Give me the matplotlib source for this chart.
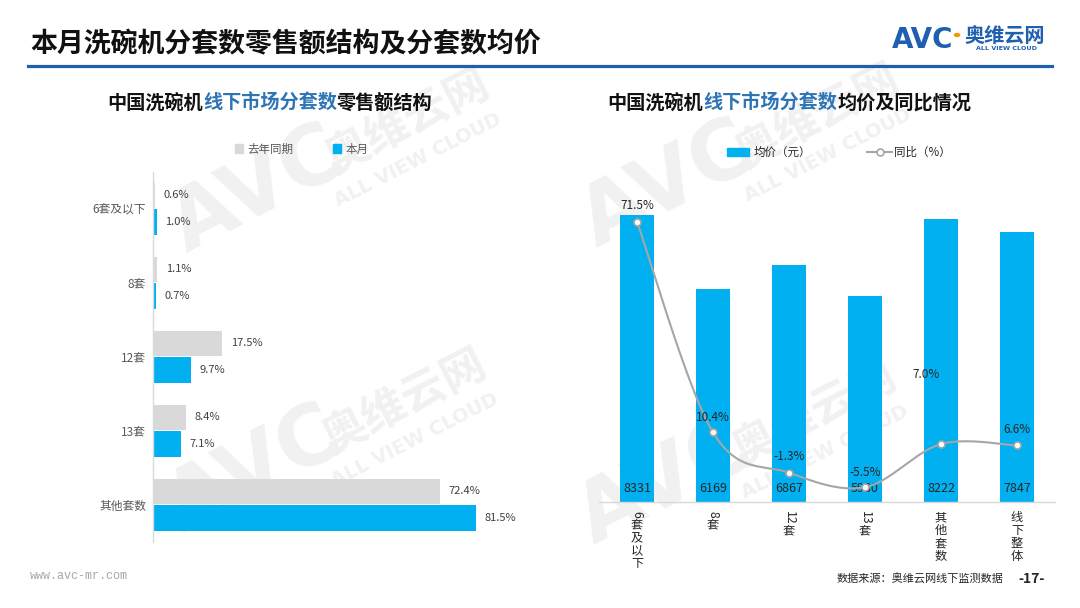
import numpy as np
import matplotlib
matplotlib.use("Agg")
import matplotlib.pyplot as plt
from matplotlib.patches import Rectangle, Circle
from matplotlib.lines import Line2D

plt.rcParams['font.family'] = ['Noto Sans CJK SC', 'DejaVu Sans']

# ---------------- data ----------------
share_cats = ["6套及以下", "8套", "12套", "13套", "其他套数"]
share_last_year = [0.6, 1.1, 17.5, 8.4, 72.4]
share_this_month = [1.0, 0.7, 9.7, 7.1, 81.5]

price_cats = ["6套及以下", "8套", "12套", "13套", "其他套数", "线下整体"]
avg_price = [8331, 6169, 6867, 5980, 8222, 7847]
yoy_pct = [71.5, 10.4, -1.3, -5.5, 7.0, 6.6]

W, H = 1080, 608
GRAY = "#D9D9D9"
BLUE = "#00B0F0"
DARK = "#1F5FAF"
TXT = "#404040"

fig = plt.figure(figsize=(W / 100, H / 100), dpi=100)


def fx(px):
    return px / W


def fy(py):
    return 1 - py / H


def add_ax(l, t, r, b):
    return fig.add_axes([fx(l), fy(b), (r - l) / W, (b - t) / H])


# ---------------- watermarks ----------------
WM = "#F1F1F1"
for cx, cy in [(258, 190), (255, 470), (668, 185), (665, 482)]:
    fig.text(fx(cx), fy(cy), "AVC", fontsize=60, fontweight="bold",
             color=WM, rotation=27, ha="center", va="center", zorder=-10,
             family="DejaVu Sans")
    fig.text(fx(cx + 150), fy(cy - 68), "奥维云网", fontsize=32, fontweight="bold",
             color=WM, rotation=27, ha="center", va="center", zorder=-10)
    fig.text(fx(cx + 160), fy(cy - 30), "ALL VIEW CLOUD", fontsize=14, fontweight="bold",
             color=WM, rotation=27, ha="center", va="center", zorder=-10,
             family="DejaVu Sans")

# ---------------- header ----------------
fig.text(fx(30), fy(44), "本月洗碗机分套数零售额结构及分套数均价", fontsize=19.4,
         fontweight="bold", color="#111111", ha="left", va="center")
fig.add_artist(Line2D([fx(28), fx(1052)], [fy(66), fy(66)], color=DARK, lw=2.3))

# logo
fig.text(fx(892), fy(40), "AVC", fontsize=20, fontweight="bold",
         color=DARK, ha="left", va="center", family="DejaVu Sans")
fig.add_artist(Circle((fx(957), fy(35)), 2.6 / W, color="#F39800",
                      transform=fig.transFigure))
fig.text(fx(964), fy(36), "奥维云网", fontsize=14.5, fontweight="bold",
         color=DARK, ha="left", va="center")
fig.text(fx(976), fy(49), "ALL VIEW CLOUD", fontsize=4.6, fontweight="bold",
         color=DARK, ha="left", va="center", family="DejaVu Sans")


def subtitle(x0, parts, y=103, fs=13.8):
    step = fs * 1.3889
    x = x0
    for s, c in parts:
        fig.text(fx(x), fy(y), s, fontsize=fs, fontweight="bold", color=c,
                 ha="left", va="center")
        x += step * len(s)


subtitle(107, [("中国洗碗机", "#111111"), ("线下市场分套数", "#2E75B6"),
               ("零售额结构", "#111111")])
subtitle(607, [("中国洗碗机", "#111111"), ("线下市场分套数", "#2E75B6"),
               ("均价及同比情况", "#111111")])

# ---------------- left chart ----------------
axL = add_ax(153, 172, 520, 542)
axL.set_facecolor("none")
y = np.arange(len(share_cats))
h = 0.345
axL.barh(y - 0.185, share_last_year, height=h, color=GRAY, zorder=2)
axL.barh(y + 0.175, share_this_month, height=h, color=BLUE, zorder=2)
axL.set_xlim(0, 367 / 3.96)
axL.set_ylim(4.5, -0.5)
for i in range(len(share_cats)):
    axL.annotate(f"{share_last_year[i]:.1f}%", (share_last_year[i], y[i] - 0.185),
                 xytext=(6, 0), textcoords="offset points", ha="left", va="center",
                 fontsize=8, color=TXT)
    axL.annotate(f"{share_this_month[i]:.1f}%", (share_this_month[i], y[i] + 0.175),
                 xytext=(6, 0), textcoords="offset points", ha="left", va="center",
                 fontsize=8, color=TXT)
axL.set_yticks(y)
axL.set_yticklabels(share_cats, fontsize=8.5, color="#595959")
axL.tick_params(axis="y", length=0, pad=5)
axL.set_xticks([])
for s in ["top", "right", "bottom"]:
    axL.spines[s].set_visible(False)
axL.spines["left"].set_color(GRAY)
axL.spines["left"].set_linewidth(1.0)

# left legend
fig.add_artist(Rectangle((fx(235), fy(153)), 8 / W, 9 / H, color=GRAY,
                         transform=fig.transFigure))
fig.text(fx(247), fy(149), "去年同期", fontsize=8.3, color="#595959", ha="left", va="center")
fig.add_artist(Rectangle((fx(333), fy(153)), 8 / W, 9 / H, color=BLUE,
                         transform=fig.transFigure))
fig.text(fx(346), fy(149), "本月", fontsize=8.3, color="#595959", ha="left", va="center")

# ---------------- right chart ----------------
axR = add_ax(599, 170, 1055, 502)
axR.set_facecolor("none")
x = np.arange(len(price_cats))
axR.bar(x, avg_price, width=0.46, color=BLUE, zorder=2)
axR.set_xlim(-0.5, len(price_cats) - 0.5)
axR.set_ylim(0, (502 - 170) / 0.03445)
axR.set_yticks([])
axR.set_xticks([])
for s in ["top", "right", "left"]:
    axR.spines[s].set_visible(False)
axR.spines["bottom"].set_color(GRAY)
axR.spines["bottom"].set_linewidth(1.0)
for i, v in enumerate(avg_price):
    axR.annotate(f"{v}", (x[i], 0), xytext=(0, 13 * 0.72), textcoords="offset points",
                 ha="center", va="center", fontsize=9, color="#262626", zorder=5)

ax2 = axR.twinx()
ax2.set_facecolor("none")
ax2.set_ylim(-9.8, 86.5)
ax2.set_yticks([])
for s in ax2.spines.values():
    s.set_visible(False)

# smooth curve (Catmull-Rom / Bezier through the data points)
P = np.column_stack([x.astype(float), np.array(yoy_pct, float)])
Pext = np.vstack([P[0], P, P[-1]])
tt = np.linspace(0, 1, 40)[:, None]
curve = []
for k in range(len(P) - 1):
    p0, p1, p2, p3 = Pext[k], Pext[k + 1], Pext[k + 2], Pext[k + 3]
    c1 = p1 + (p2 - p0) / 6
    c2 = p2 - (p3 - p1) / 6
    seg = ((1 - tt) ** 3) * p1 + 3 * ((1 - tt) ** 2) * tt * c1 + 3 * (1 - tt) * tt ** 2 * c2 + tt ** 3 * p2
    curve.append(seg)
curve = np.vstack(curve)
ax2.plot(curve[:, 0], curve[:, 1], color="#A6A6A6", lw=1.5, zorder=3)
ax2.plot(x, yoy_pct, ls="none", marker="o", ms=5, mfc="white", mec="#A6A6A6",
         mew=1.2, zorder=4)

label_offsets = [(0, 16), (0, 15), (0, 16), (0, 15), (-15, 70), (0, 16)]
for i, v in enumerate(yoy_pct):
    dx, dy = label_offsets[i]
    ax2.annotate(f"{v:.1f}%", (x[i], v), xytext=(dx * 0.72, dy * 0.72),
                 textcoords="offset points", ha="center", va="center",
                 fontsize=8.5, color="#262626", zorder=5)

# stacked x labels (digits rotated, CJK upright)
def stacked_label(ax, xi, label, top_px=9):
    tokens = []
    buf = ""
    for ch in label:
        if ch.isascii():
            buf += ch
        else:
            if buf:
                tokens.append(("d", buf))
                buf = ""
            tokens.append(("c", ch))
    if buf:
        tokens.append(("d", buf))
    off = top_px
    for kind, tok in tokens:
        if kind == "d":
            ax.annotate(tok, (xi, 0), xycoords=("data", "axes fraction"),
                        xytext=(0, -off * 0.72), textcoords="offset points",
                        ha="center", va="top", rotation=-90, fontsize=8.8,
                        color="#262626")
            off += 6.3 * len(tok) + 1
        else:
            ax.annotate(tok, (xi, 0), xycoords=("data", "axes fraction"),
                        xytext=(0, -off * 0.72), textcoords="offset points",
                        ha="center", va="top", fontsize=8.8, color="#262626")
            off += 13


for i, c in enumerate(price_cats):
    stacked_label(axR, x[i], c)

# right legend
fig.add_artist(Rectangle((fx(727), fy(156)), 22 / W, 8 / H, color=BLUE,
                         transform=fig.transFigure))
fig.text(fx(754), fy(152), "均价（元）", fontsize=8.3, color="#262626", ha="left", va="center")
fig.add_artist(Line2D([fx(867), fx(892)], [fy(152), fy(152)], color="#A6A6A6", lw=1.5,
                      transform=fig.transFigure))
fig.add_artist(Line2D([fx(879.5)], [fy(152)], ls="none", marker="o", ms=5, mfc="white",
                      mec="#A6A6A6", mew=1.2, transform=fig.transFigure))
fig.text(fx(894), fy(152), "同比（%）", fontsize=8.3, color="#262626", ha="left", va="center")

# ---------------- footer ----------------
fig.text(fx(30), fy(576), "www.avc-mr.com", fontsize=8.5, color="#A6A6A6",
         ha="left", va="center", family="Liberation Mono")
fig.text(fx(1003), fy(579), "数据来源：奥维云网线下监测数据", fontsize=8, color="#262626",
         ha="right", va="center")
fig.text(fx(1018), fy(579), "-17-", fontsize=10, fontweight="bold", color="#262626",
         ha="left", va="center")

fig.savefig("out.png", dpi=100)
